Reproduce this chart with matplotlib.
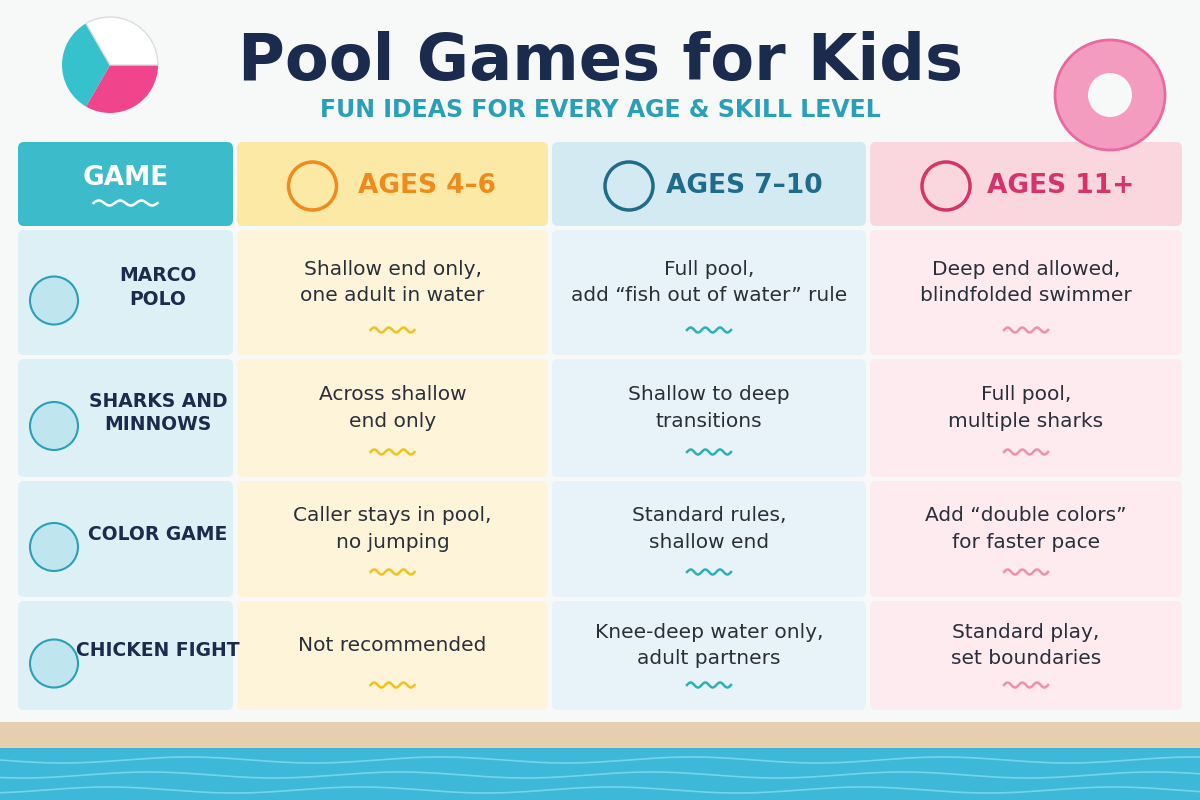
import numpy as np
import matplotlib.pyplot as plt
from matplotlib.patches import FancyBboxPatch, Rectangle, Circle, Wedge

title = "Pool Games for Kids"
subtitle = "FUN IDEAS FOR EVERY AGE & SKILL LEVEL"
headers = ["GAME", "AGES 4–6", "AGES 7–10", "AGES 11+"]
games = ["MARCO\nPOLO", "SHARKS AND\nMINNOWS", "COLOR GAME", "CHICKEN FIGHT"]
ages_4_6 = ["Shallow end only,\none adult in water", "Across shallow\nend only",
            "Caller stays in pool,\nno jumping", "Not recommended"]
ages_7_10 = ["Full pool,\nadd “fish out of water” rule", "Shallow to deep\ntransitions",
             "Standard rules,\nshallow end", "Knee-deep water only,\nadult partners"]
ages_11 = ["Deep end allowed,\nblindfolded swimmer", "Full pool,\nmultiple sharks",
           "Add “double colors”\nfor faster pace", "Standard play,\nset boundaries"]

col_x = [(18, 233), (237, 548), (552, 866), (870, 1182)]
row_y = [(230, 355), (359, 477), (481, 597), (601, 710)]
head_y = (142, 226)
head_bg = ["#3cbccb", "#fde9a6", "#d4eaf3", "#fad6de"]
head_fg = ["white", "#ef8a1c", "#1e6b8c", "#d5336b"]
body_bg = ["#dcf0f5", "#fdf4da", "#e7f3f8", "#fdebef"]
wave_c = [None, "#f2c21b", "#2bb0b8", "#ef8fae"]

fig = plt.figure(figsize=(12, 8), dpi=100)
ax = fig.add_axes([0, 0, 1, 1])
ax.set_xlim(0, 1200)
ax.set_ylim(800, 0)
ax.axis("off")
fig.patch.set_facecolor("#f7f8f8")

ax.text(600, 62, title, ha="center", va="center", fontsize=46, fontweight="bold",
        color="#1b2b4d", family="DejaVu Sans")
ax.text(600, 110, subtitle, ha="center", va="center", fontsize=17, fontweight="bold",
        color="#2a9fb8")


def wave(xc, yc, color, w=30, amp=2.5):
    xs = np.linspace(xc - w, xc + w, 80)
    ax.plot(xs, yc + amp * np.sin((xs - xc) / w * 3 * np.pi), color=color, lw=1.8)


def box(x0, x1, y0, y1, fc):
    ax.add_patch(FancyBboxPatch((x0, y0), x1 - x0, y1 - y0, boxstyle="round,pad=0,rounding_size=6",
                                fc=fc, ec="none"))


for j, (x0, x1) in enumerate(col_x):
    box(x0, x1, head_y[0], head_y[1], head_bg[j])
    cx = (x0 + x1) / 2
    if j == 0:
        ax.text(cx, 178, headers[j], ha="center", va="center", fontsize=19,
                fontweight="bold", color=head_fg[j])
        wave(cx, 203, "white", w=32)
    else:
        ax.add_patch(Circle((cx - 80, 186), 24, fc="none", ec=head_fg[j], lw=2.5))
        ax.text(cx + 35, 186, headers[j], ha="center", va="center", fontsize=19,
                fontweight="bold", color=head_fg[j])

cols = [games, ages_4_6, ages_7_10, ages_11]
for i, (y0, y1) in enumerate(row_y):
    for j, (x0, x1) in enumerate(col_x):
        box(x0, x1, y0, y1, body_bg[j])
        cx, cy = (x0 + x1) / 2, (y0 + y1) / 2
        if j == 0:
            ax.add_patch(Circle((x0 + 36, cy + 8), 24, fc="#bfe6ef", ec="#2a9fb8", lw=1.5))
            ax.text(x0 + 140, cy - 5, cols[j][i], ha="center", va="center", fontsize=13.5,
                    fontweight="bold", color="#1b2b4d", linespacing=1.3)
        else:
            ax.text(cx, cy - 10, cols[j][i], ha="center", va="center", fontsize=14.5,
                    color="#2a2f3a", linespacing=1.5)
            wave(cx, y1 - 25, wave_c[j], w=22)

# beach ball and flamingo (simple shapes)
ax.add_patch(Wedge((110, 65), 48, 0, 120, fc="#f0448d"))
ax.add_patch(Wedge((110, 65), 48, 120, 240, fc="#36c2cc"))
ax.add_patch(Wedge((110, 65), 48, 240, 360, fc="white", ec="#ddd"))
ax.add_patch(Circle((1110, 95), 55, fc="#f49cc0", ec="#e86aa0", lw=2))
ax.add_patch(Circle((1110, 95), 22, fc="#f7f8f8"))

# pool edge and water
ax.add_patch(Rectangle((0, 722), 1200, 26, fc="#e6cfae", ec="none"))
ax.add_patch(Rectangle((0, 748), 1200, 52, fc="#3db8d8", ec="none"))
xs = np.linspace(0, 1200, 300)
for k, yy in enumerate([760, 775, 790]):
    ax.plot(xs, yy + 3 * np.sin(xs / 40 + k), color="#8fe0f0", lw=1.2, alpha=0.7)

fig.savefig("out.png", dpi=100, facecolor=fig.get_facecolor())
